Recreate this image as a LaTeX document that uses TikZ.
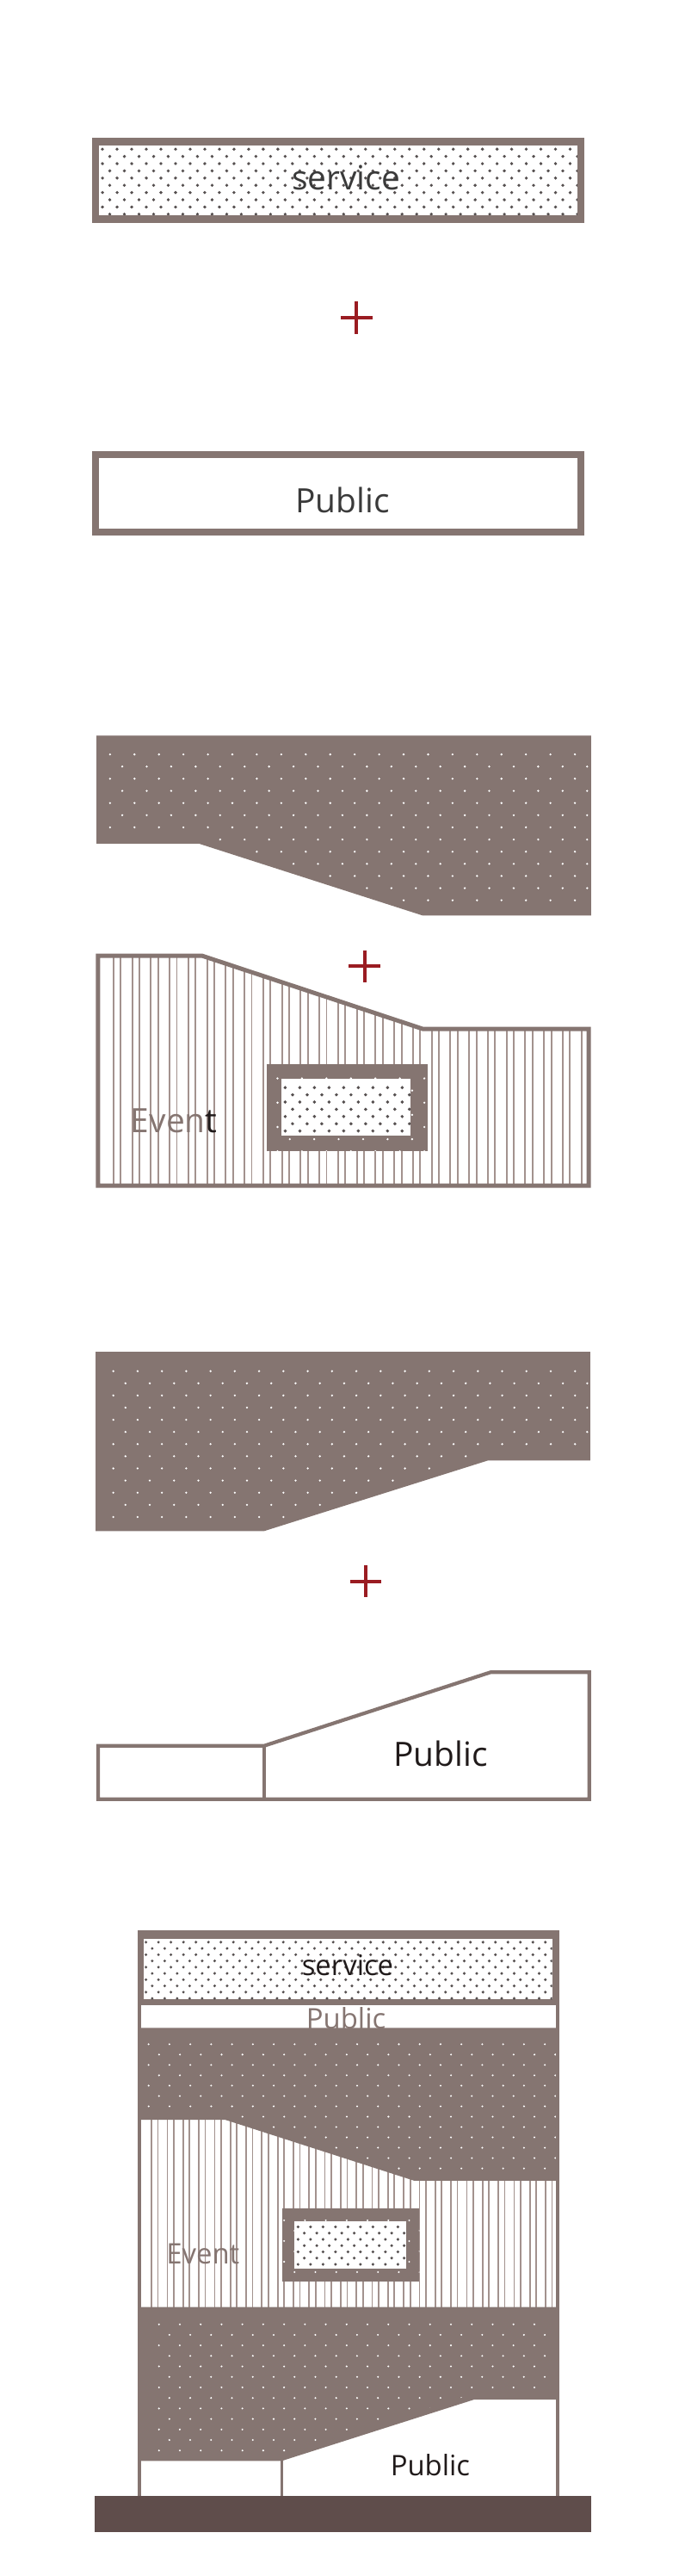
\documentclass[tikz,border=0pt]{standalone}
\usepackage{fontspec}
\setmainfont{Open Sans}
\usepackage{tikz}

\definecolor{wall}{HTML}{857571}
\definecolor{walldark}{HTML}{5F4D4B}
\definecolor{stripe}{HTML}{A3928E}
\definecolor{speck}{HTML}{565050}
\definecolor{plusred}{HTML}{9A1C22}
\definecolor{ink}{HTML}{3A3A3A}
\definecolor{inkdark}{HTML}{201A1A}

% staggered field of dots: x0, y0, x1, y1, dx, dy, radius
\newcommand{\dotfield}[7]{%
  \pgfmathtruncatemacro{\nrow}{(#4-#2)/#6}
  \pgfmathtruncatemacro{\ncol}{(#3-#1)/#5}
  \foreach \ri in {0,...,\nrow}
    \foreach \ci in {0,...,\ncol}
      \fill ({#1+(\ci+0.5*mod(\ri,2))*#5}, {#2+\ri*#6}) circle [radius = #7];
}

\begin{document}
\begin{tikzpicture}[
    x = 0.5mm, y = -0.5mm,
    wallbox/.style = {draw = wall, line width = 2.2mm},
    edgeline/.style = {draw = wall, line width = 1.3mm, line join = miter},
    stripeline/.style = {draw = stripe, line width = 0.5mm},
    plussign/.style = {draw = plusred, line width = 1mm},
    bigtext/.style = {font = \fontsize{29pt}{30pt}\selectfont, anchor = base, inner sep = 0pt},
    smalltext/.style = {font = \fontsize{24.5pt}{26pt}\selectfont, anchor = base, inner sep = 0pt}
    ]
    \useasboundingbox (0, 0) rectangle (417, 1568);

    % service
    \begin{scope}
      \clip (60.4, 88.4) rectangle (351.6, 131.1);
      \begin{scope}[fill = speck]
        \dotfield{62.4}{90.8}{352}{131}{8.9}{4.4}{0.5mm}
      \end{scope}
    \end{scope}
    \draw [wallbox] (58.2, 86.2) rectangle (353.8, 133.3);
    \node at (210.7, 115.4) [bigtext, text = ink, name = service] {service};

    \coordinate (plus1) at (217.1, 193.3);
    \draw [plussign] (plus1) ++(0, -9.8) -- ++(0, 19.6) (plus1) ++(-9.6, 0) -- ++(19.2, 0);

    % public
    \draw [wallbox] (58.2, 276.7) rectangle (353.8, 324);
    \node at (208.7, 312.2) [bigtext, text = ink, name = public] {Public};

    % upper mass
    \fill [wall] (58.7, 447.7) -- (360, 447.7) -- (360, 557.3) -- (257.5, 557.3)
      -- (121.1, 513.5) -- (58.7, 513.5) -- cycle;
    \begin{scope}
      \clip (58.7, 447.7) -- (360, 447.7) -- (360, 553.5) -- (258, 553.5)
        -- (121.5, 509.5) -- (58.7, 509.5) -- cycle;
      \begin{scope}[fill = white]
        \dotfield{67}{459.2}{360}{556}{14.9}{7.4}{0.34mm}
      \end{scope}
    \end{scope}

    \coordinate (plus2) at (222.1, 588.2);
    \draw [plussign] (plus2) ++(0, -9.8) -- ++(0, 19.6) (plus2) ++(-9.6, 0) -- ++(19.2, 0);

    % event
    \begin{scope}
      \clip (59.7, 581.8) -- (123.2, 581.8) -- (257.5, 626.3) -- (358.5, 626.3)
        -- (358.5, 721.7) -- (59.7, 721.7) -- cycle;
      \foreach \k in {0,...,25} {
        \draw [stripeline] (69.1 + 11.4*\k, 575) -- ++(0, 150);
        \draw [stripeline] (73.5 + 11.4*\k, 575) -- ++(0, 150);
      }
    \end{scope}
    \draw [edgeline] (59.7, 581.8) -- (123.2, 581.8) -- (257.5, 626.3) -- (358.5, 626.3)
      -- (358.5, 721.7) -- (59.7, 721.7) -- cycle;

    \fill [wall] (162.3, 647.7) rectangle (260.6, 700.6);
    \begin{scope}
      \clip (162.3, 647.7) rectangle (260.6, 700.6);
      \begin{scope}[fill = white]
        \dotfield{169}{656.4}{260}{701}{14.9}{7.4}{0.34mm}
      \end{scope}
    \end{scope}
    \fill [white] (171.3, 656.5) rectangle (250.2, 691.2);
    \begin{scope}
      \clip (171.3, 656.5) rectangle (250.2, 691.2);
      \begin{scope}[fill = speck]
        \dotfield{173.7}{662}{251}{690}{8.9}{4.4}{0.52mm}
      \end{scope}
    \end{scope}
    \node at (106, 689.3) [bigtext, name = event] {{\color{wall}Even}{\color{inkdark}t}};

    % lower mass
    \fill [wall] (58.3, 822.9) -- (359.5, 822.9) -- (359.5, 889) -- (297.1, 889)
      -- (160.7, 932) -- (58.3, 932) -- cycle;
    \begin{scope}
      \clip (58.3, 822.9) -- (359.5, 822.9) -- (359.5, 885) -- (297, 885)
        -- (160.5, 928) -- (58.3, 928) -- cycle;
      \begin{scope}[fill = white]
        \dotfield{69}{834.6}{360}{932}{14.8}{7.4}{0.34mm}
      \end{scope}
    \end{scope}

    \coordinate (plus3) at (222.7, 962.5);
    \draw [plussign] (plus3) ++(0, -9.8) -- ++(0, 19.6) (plus3) ++(-9.6, 0) -- ++(19.2, 0);

    % public, ground floor
    \draw [edgeline, line width = 1.1mm] (59.7, 1095.1) -- (59.7, 1062.7) -- (160.7, 1062.7)
      -- (299, 1017.8) -- (358.9, 1017.8) -- (358.9, 1095.1) -- cycle;
    \draw [edgeline, line width = 1.1mm] (160.7, 1062.7) -- (160.7, 1095.1);
    \node at (268.3, 1075.1) [bigtext, text = inkdark, name = public2] {Public};

    % all together
    \fill [wall] (84.1, 1175.6) rectangle (340.4, 1220.3);
    \fill [white] (87.4, 1180.1) rectangle (336.2, 1216.9);
    \begin{scope}
      \clip (87.4, 1180.1) rectangle (336.2, 1216.9);
      \begin{scope}[fill = speck]
        \dotfield{88.9}{1182.2}{337}{1217}{7.6}{3.8}{0.45mm}
      \end{scope}
    \end{scope}
    \node at (211.7, 1202.3) [smalltext, text = inkdark, name = serviceall] {service};
    \node at (210.7, 1235) [smalltext, text = wall, name = publicall] {Public};

    \fill [white] (84.1, 1238) rectangle (340.4, 1404.3);
    \begin{scope}
      \clip (84.1, 1238) rectangle (340.4, 1404.3);
      \foreach \k in {0,...,25} {
        \draw [stripeline, line width = 0.45mm] (92.3 + 9.6*\k, 1280) -- ++(0, 130);
        \draw [stripeline, line width = 0.45mm] (96.2 + 9.6*\k, 1280) -- ++(0, 130);
      }
    \end{scope}

    \fill [wall] (84.1, 1234.4) -- (340.4, 1234.4) -- (340.4, 1327.4) -- (252.3, 1327.4)
      -- (137.2, 1290.3) -- (84.1, 1290.3) -- cycle;
    \begin{scope}
      \clip (84.1, 1234.4) -- (340.4, 1234.4) -- (340.4, 1324) -- (252, 1324)
        -- (137, 1287) -- (84.1, 1287) -- cycle;
      \begin{scope}[fill = white]
        \dotfield{90.5}{1244.3}{340}{1330}{12.7}{6.3}{0.3mm}
      \end{scope}
    \end{scope}

    \fill [wall] (171.7, 1344) rectangle (255.4, 1388.6);
    \begin{scope}
      \clip (171.7, 1344) rectangle (255.4, 1388.6);
      \begin{scope}[fill = white]
        \dotfield{173}{1351.5}{256}{1389}{12.7}{6.3}{0.3mm}
      \end{scope}
    \end{scope}
    \fill [white] (179.4, 1351.9) rectangle (247.1, 1380.7);
    \begin{scope}
      \clip (179.4, 1351.9) rectangle (247.1, 1380.7);
      \begin{scope}[fill = speck]
        \dotfield{181.5}{1355.5}{248}{1380}{7.6}{3.8}{0.45mm}
      \end{scope}
    \end{scope}
    \node at (123.6, 1378) [smalltext, text = wall, name = eventall] {Event};

    \fill [wall] (84.1, 1404.3) -- (340.4, 1404.3) -- (340.4, 1460.6) -- (288.7, 1460.6)
      -- (171.7, 1497.9) -- (84.1, 1497.9) -- cycle;
    \begin{scope}
      \clip (84.1, 1404.3) -- (340.4, 1404.3) -- (340.4, 1457) -- (288.5, 1457)
        -- (171.5, 1494.5) -- (84.1, 1494.5) -- cycle;
      \begin{scope}[fill = white]
        \dotfield{96.8}{1414.8}{334}{1500}{12.7}{6.4}{0.3mm}
      \end{scope}
    \end{scope}

    \draw [wall, line width = 0.7mm] (171.7, 1497.9) -- (171.7, 1519);
    \draw [wall, line width = 0.9mm] (84.9, 1519) -- (84.9, 1175.6) -- (339.6, 1175.6) -- (339.6, 1519);
    \node at (262, 1506.7) [smalltext, text = inkdark, name = publicallground] {Public};

    \fill [walldark] (57.6, 1519) rectangle (360.1, 1541);
  \end{tikzpicture}
\end{document}
